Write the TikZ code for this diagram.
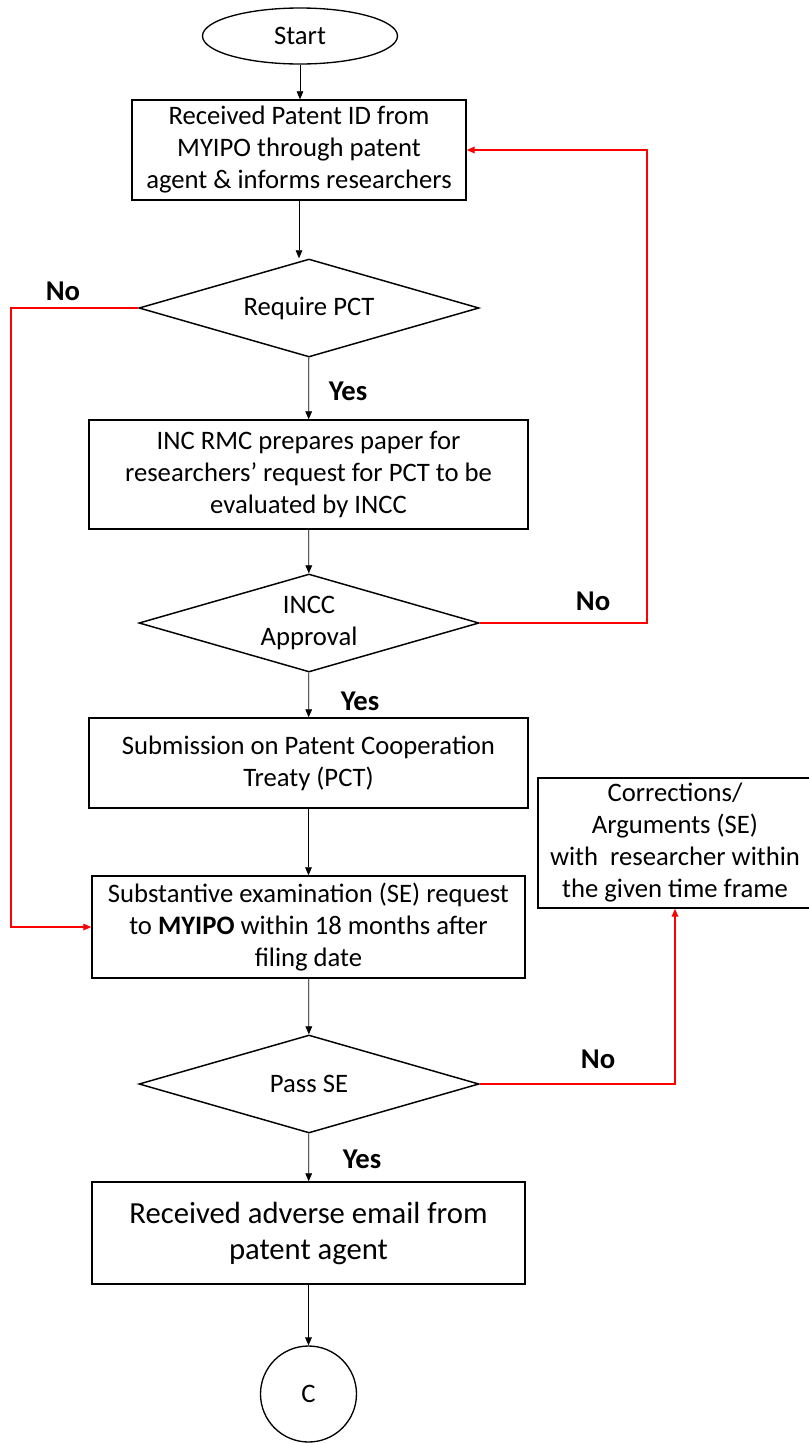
\documentclass[tikz,border=0pt]{standalone}
\usepackage{fontspec}
\setmainfont{Carlito}
\usetikzlibrary{shapes.geometric,arrows.meta}
\begin{document}
\begin{tikzpicture}[x=0.75pt,y=-0.75pt,
  procbox/.style={draw, line width=1.1pt, rectangle, align=center, inner sep=0pt, font=\fontsize{20}{24}\selectfont},
  decision/.style={draw, line width=1.1pt, diamond, shape aspect=3.47, align=center, inner sep=0pt, minimum width=255pt, minimum height=73.5pt, font=\fontsize{20}{24}\selectfont},
  terminal/.style={draw, line width=1pt, ellipse, inner sep=0pt, font=\fontsize{20}{24}\selectfont},
  flow/.style={-{Triangle[length=6pt,width=5pt]}, line width=0.6pt},
  noflow/.style={flow, red, line width=0.9pt},
  answer/.style={font=\bfseries\fontsize{21.5}{24}\selectfont}]
\useasboundingbox (0,0) rectangle (809,1443);
% main column
\node[terminal, minimum width=146.25pt, minimum height=42pt] (start) at (300,36) {Start};
\node[procbox, minimum width=250.5pt, minimum height=75pt] (recvid) at (299,150) {Received Patent ID from\\MYIPO through patent\\agent \& informs researchers};
\node[decision] (needpct) at (309,308) {Require PCT};
\node[procbox, minimum width=329.25pt, minimum height=81.75pt] (paper) at (308.5,474.5) {INC RMC prepares paper for\\researchers’ request for PCT to be\\evaluated by INCC};
\node[decision] (approval) at (309,623) {INCC\\Approval};
\node[procbox, minimum width=329.25pt, minimum height=67.5pt] (submit) at (308.5,763) {Submission on Patent Cooperation\\Treaty (PCT)};
\node[procbox, minimum width=324.75pt, minimum height=76.5pt] (serequest) at (308.5,927) {Substantive examination (SE) request\\to \textbf{MYIPO} within 18 months after\\filing date};
\node[decision] (passse) at (309,1084) {Pass SE};
\node[procbox, minimum width=324.75pt, minimum height=76.5pt, font=\fontsize{23}{27}\selectfont] (adverse) at (308.5,1233) {Received adverse email from\\patent agent};
\node[terminal, minimum width=72pt, minimum height=72pt] (conn) at (308.5,1394) {C};
% side box
\node[procbox, minimum width=205.5pt, minimum height=97.5pt] (corr) at (675,843) {Corrections/\\Arguments (SE)\\with~ researcher within\\the given time frame};
\coordinate (leftrail) at (11,0);
\coordinate (rightrail) at (647,0);
% connectors
\draw[flow] (start.south) -- (start.south |- recvid.north);
\draw[flow] (recvid.south) -- (recvid.south |- needpct.north);
\draw[flow] (needpct) -- (paper);
\draw[flow] (paper) -- (approval);
\draw[flow] (approval) -- (submit);
\draw[flow] (submit) -- (serequest);
\draw[flow] (serequest) -- (passse);
\draw[flow] (passse) -- (adverse);
\draw[flow] (adverse) -- (conn);
\draw[noflow] (needpct.west) -- (needpct.west -| leftrail) |- (serequest.west);
\draw[noflow] (approval.east) -| (recvid.east -| rightrail) -- (recvid.east);
\draw[noflow] (passse.east) -| (corr.south);
% labels
\node[answer] (no1) at (63,291) {No};
\node[answer] (yes1) at (348,391) {Yes};
\node[answer] (no2) at (593,601) {No};
\node[answer] (yes2) at (360,701) {Yes};
\node[answer] (no3) at (598,1059) {No};
\node[answer] (yes3) at (362,1159) {Yes};
\end{tikzpicture}
\end{document}
